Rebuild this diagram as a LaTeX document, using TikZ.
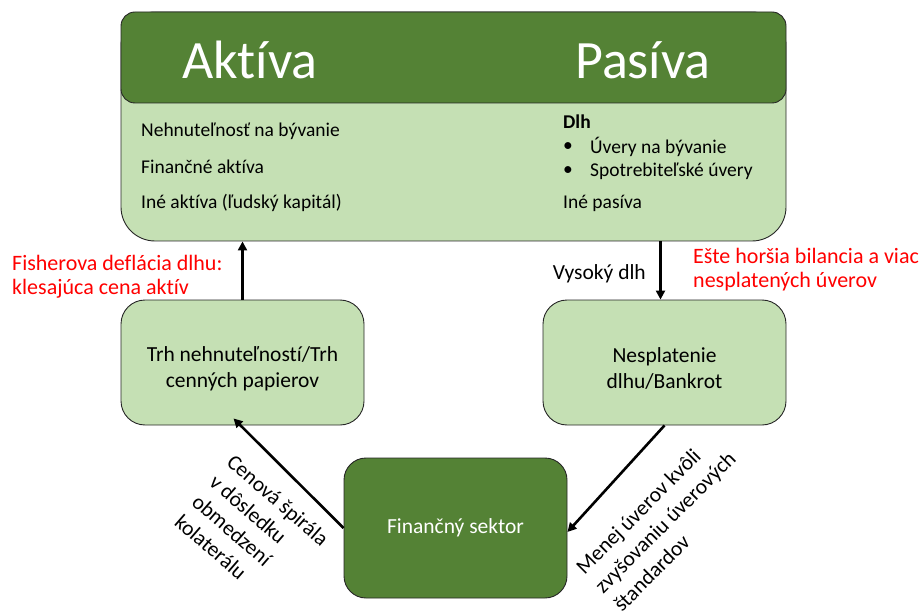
\documentclass[tikz,border=0pt]{standalone}
\usepackage{fontspec}
\setmainfont{Carlito}[Ligatures={NoCommon}]
\usetikzlibrary{arrows.meta}
\definecolor{dkgreen}{HTML}{548235}
\definecolor{ltgreen}{HTML}{C5E0B4}
\definecolor{redtxt}{HTML}{FF0000}
\tikzset{
  boxline/.style={draw=black!85, line width=0.9pt},
  lightbox/.style={boxline, fill=ltgreen, rounded corners=24pt, inner sep=0pt, align=center, font=\fontsize{21.5}{26}\selectfont},
  darkbox/.style={boxline, fill=dkgreen, rounded corners=22pt, inner sep=0pt, align=center, text=white, font=\fontsize{21.5}{26}\selectfont},
  body/.style={anchor=west, inner sep=0pt, font=\fontsize{19.5}{22}\selectfont},
  redlabel/.style={anchor=west, inner sep=0pt, align=left, text=redtxt, font=\fontsize{22}{24}\selectfont},
  rotlabel/.style={inner sep=0pt, align=left, font=\fontsize{21.5}{26.5}\selectfont},
  arr/.style={line width=2.6pt, -{Triangle[length=9pt,width=9pt]}}
}
\begin{document}
\begin{tikzpicture}[x=1pt,y=-1pt]
\path[use as bounding box] (0,0) rectangle (920,612);
% top balance sheet box
\node[boxline, fill=ltgreen, rounded corners=34pt, minimum width=665pt, minimum height=229pt, inner sep=0pt] (top) at (453.5,126.5) {};
\node[boxline, fill=dkgreen, rounded corners=14pt, minimum width=665pt, minimum height=91pt, inner sep=0pt] (hdr) at (453.5,57.5) {};
\node[text=white, inner sep=0pt, font=\fontsize{54}{60}\selectfont] (akt) at (250,60) {Aktíva};
\node[text=white, inner sep=0pt, font=\fontsize{54}{60}\selectfont] (pas) at (643,60) {Pasíva};
\node[body] (a1) at (141,131) {Nehnuteľnosť na bývanie};
\node[body] (a2) at (141,167) {Finančné aktíva};
\node[body] (a3) at (141,203) {Iné aktíva (ľudský kapitál)};
\node[body, font=\bfseries\fontsize{19.5}{22}\selectfont] (p0) at (563,122) {Dlh};
\node[body] (b1) at (563,147) {•};
\node[body] (p1) at (590,147) {Úvery na bývanie};
\node[body] (b2) at (563,171) {•};
\node[body] (p2) at (590,171) {Spotrebiteľské úvery};
\node[body] (p3) at (563,203) {Iné pasíva};
% middle boxes
\node[lightbox, minimum width=243pt, minimum height=125pt] (trh) at (242.5,362.5) {};
\node[lightbox, minimum width=243pt, minimum height=125pt] (nes) at (664.5,362.5) {};
\node[align=center, inner sep=0pt, font=\fontsize{21.5}{26}\selectfont] (trht) at ([yshift=-6pt]trh.center) {Trh nehnuteľností/Trh\\cenných papierov};
\node[align=center, inner sep=0pt, font=\fontsize{21.5}{26}\selectfont] (nest) at ([yshift=-6pt]nes.center) {Nesplatenie\\dlhu/Bankrot};
% bottom box
\node[darkbox, minimum width=223pt, minimum height=140pt] (fin) at (455.5,528) {Finančný sektor};
% arrows
\draw[arr] (trh.north) -- (trh.north |- top.south);
\draw[arr] ([xshift=-4pt]nes.north |- top.south) -- ([xshift=-4pt]nes.north);
\draw[arr] (fin.west) -- ([xshift=-9pt,yshift=7pt]trh.south);
\draw[arr] (nes.south) -- ([yshift=-4pt]fin.east);
% labels
\node[anchor=east, inner sep=0pt, font=\fontsize{21.5}{22}\selectfont] (vd) at (646,274) {Vysoký dlh};
\node[redlabel] (fis) at (12,277) {Fisherova deflácia dlhu:\\klesajúca cena aktív};
\node[redlabel] (ese) at (693,270) {Ešte horšia bilancia a viac\\nesplatených úverov};
\node[rotlabel, rotate=-41] (cen) at (252,530) {Cenová špirála\\v dôsledku\\obmedzení\\kolaterálu};
\node[rotlabel, rotate=45] (men) at (665,522) {Menej úverov kvôli\\zvyšovaniu úverových\\štandardov};
\end{tikzpicture}
\end{document}
